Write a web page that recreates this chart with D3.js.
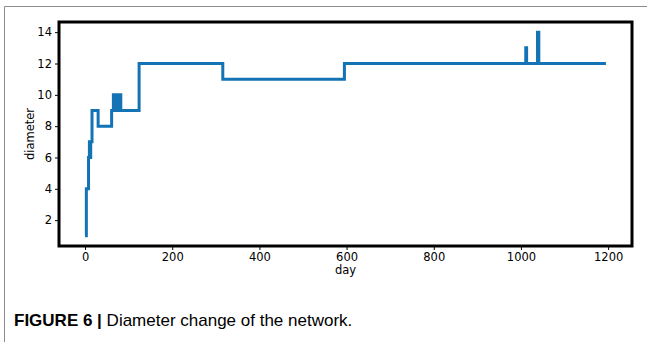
<!DOCTYPE html>
<html>
<head>
<meta charset="utf-8">
<title>Diameter change</title>
<style>
  body { margin: 0; background: #fff; }
  text { font-family: "DejaVu Sans", sans-serif; }
</style>
</head>
<body>
<script src="https://cdn.jsdelivr.net/npm/d3@7/dist/d3.min.js"></script>
<script>
// data (step series: value holds until next day)
var days   = [0, 3, 8, 10, 12, 13, 16, 30, 61, 65, 68, 70, 73, 75, 78, 80, 82, 124, 316, 595, 1011, 1013, 1038, 1041, 1195];
var values = [1, 4, 6, 7,  6,  7,  9,  8,  9,  10, 9,  10, 9,  10, 9,  10, 9,  12,  11,  12,  13,   12,   14,   12,   12];
var xTicks = [0, 200, 400, 600, 800, 1000, 1200];
var yTicks = [2, 4, 6, 8, 10, 12, 14];

var width = 647, height = 342;
var mLeft = 59, mRight = 632, mTop = 22, mBottom = 246;

var svg = d3.select("body").append("svg")
  .attr("width", width)
  .attr("height", height);

// outer frame (top + left grey rules)
svg.append("line").attr("x1", 4.5).attr("y1", 6.5).attr("x2", width).attr("y2", 6.5)
  .attr("stroke", "#8c8c8c").attr("stroke-width", 1);
svg.append("line").attr("x1", 4.5).attr("y1", 6.5).attr("x2", 4.5).attr("y2", height)
  .attr("stroke", "#8c8c8c").attr("stroke-width", 1);

var xExt = d3.extent(days), yExt = d3.extent(values);
var xPad = (xExt[1] - xExt[0]) * 0.05, yPad = (yExt[1] - yExt[0]) * 0.05;

var x = d3.scaleLinear().domain([xExt[0] - xPad, xExt[1] + xPad]).range([mLeft, mRight]);
var y = d3.scaleLinear().domain([yExt[0] - yPad, yExt[1] + yPad]).range([mBottom, mTop]);

var pts = days.map(function(d, i) { return [d, values[i]]; });

var line = d3.line()
  .x(function(d) { return x(d[0]); })
  .y(function(d) { return y(d[1]); })
  .curve(d3.curveStepAfter);

svg.append("path")
  .datum(pts)
  .attr("d", line)
  .attr("fill", "none")
  .attr("stroke", "#1473b5")
  .attr("stroke-width", 3)
  .attr("stroke-linejoin", "miter");

// axes
var xAxis = svg.append("g")
  .attr("transform", "translate(0," + mBottom + ")")
  .call(d3.axisBottom(x).tickValues(xTicks).tickSize(4).tickPadding(3).tickFormat(d3.format("d")));
var yAxis = svg.append("g")
  .attr("transform", "translate(" + mLeft + ",0)")
  .call(d3.axisLeft(y).tickValues(yTicks).tickSize(4).tickPadding(3).tickFormat(d3.format("d")));

[xAxis, yAxis].forEach(function(a) {
  a.select(".domain").remove();
  a.selectAll("text").attr("font-size", 11.5).attr("fill", "#000")
    .attr("font-family", "DejaVu Sans, sans-serif");
  a.selectAll(".tick line").attr("stroke", "#000");
});

// frame of the plot
svg.append("rect")
  .attr("x", mLeft).attr("y", mTop)
  .attr("width", mRight - mLeft).attr("height", mBottom - mTop)
  .attr("fill", "none").attr("stroke", "#000").attr("stroke-width", 3);

// axis labels
svg.append("text")
  .attr("x", (mLeft + mRight) / 2).attr("y", 274)
  .attr("text-anchor", "middle").attr("font-size", 11.5)
  .text("day");
svg.append("text")
  .attr("transform", "translate(34," + ((mTop + mBottom) / 2) + ") rotate(-90)")
  .attr("text-anchor", "middle").attr("font-size", 11.5)
  .text("diameter");

// caption
var cap = svg.append("text")
  .attr("x", 14).attr("y", 326)
  .style("font-family", "'Liberation Sans Narrow', 'Liberation Sans', sans-serif")
  .attr("font-size", 17);
cap.append("tspan").attr("font-weight", "bold").text("FIGURE 6 | ");
cap.append("tspan").text("Diameter change of the network.");
</script>
</body>
</html>
